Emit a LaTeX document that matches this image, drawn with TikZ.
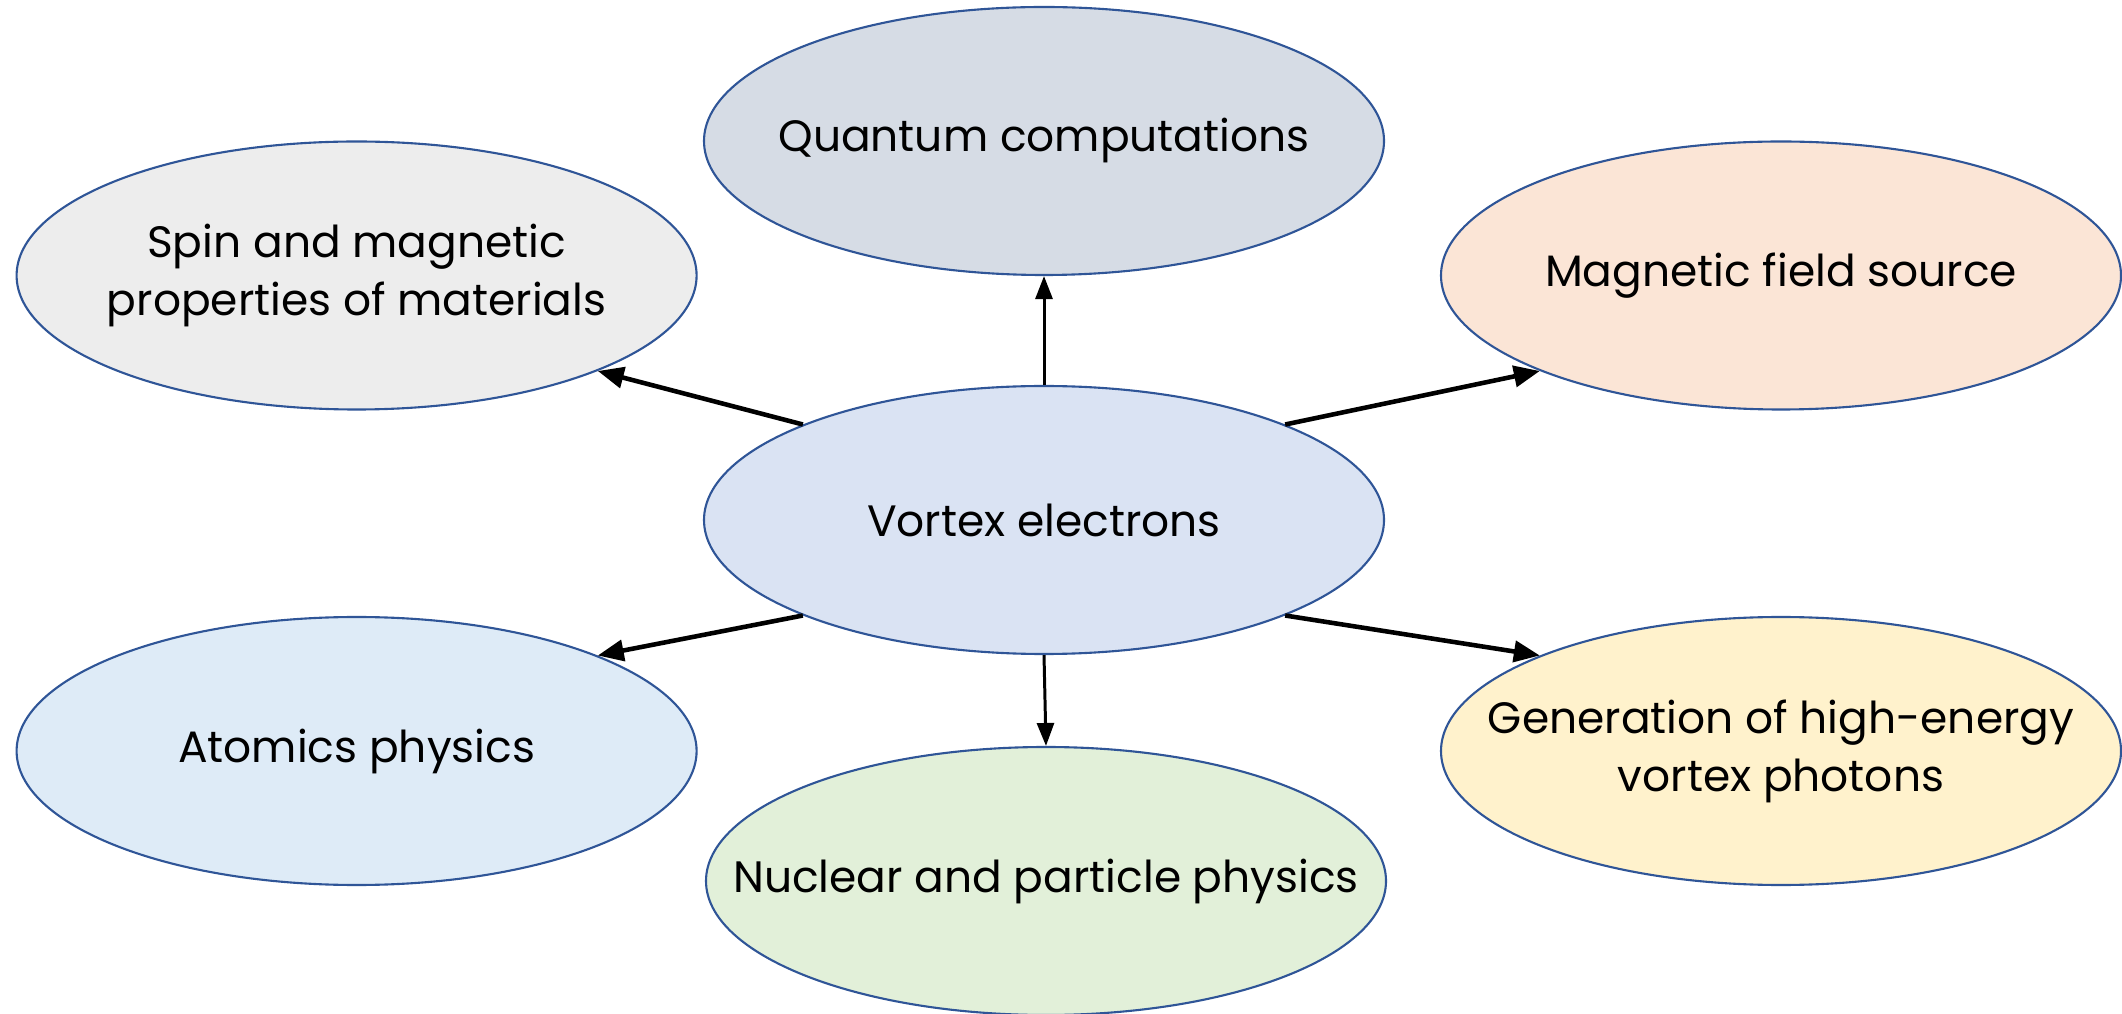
\documentclass[tikz,border=0pt]{standalone}
\usepackage{fontspec}
\setmainfont{Poppins}
\usepackage{tikz}
\usetikzlibrary{shapes, positioning, calc, arrows.meta}

\definecolor{rimblue}{HTML}{2F5597}
\definecolor{fillquantum}{HTML}{D6DCE5}
\definecolor{fillspin}{HTML}{EDEDED}
\definecolor{fillmagnet}{HTML}{FBE5D6}
\definecolor{fillvortex}{HTML}{DAE3F3}
\definecolor{fillatom}{HTML}{DEEBF7}
\definecolor{fillnuclear}{HTML}{E2F0D9}
\definecolor{fillphoton}{HTML}{FFF2CC}

\tikzset{
    topic/.style={ellipse, draw=rimblue, line width=0.6pt, minimum width=6.8cm, minimum height=2.68cm,
        inner xsep=-2.5cm, inner ysep=0pt, align=center, font=\fontsize{12.5pt}{16.5pt}\selectfont},
    link/.style={-{Triangle[length=2.6mm, width=2.1mm]}, line width=1.3pt},
    uplink/.style={-{Triangle[length=2.3mm, width=1.7mm]}, line width=0.85pt}
}

\begin{document}
\begin{tikzpicture}
    \useasboundingbox (0,0) rectangle (21.22,10.13);

    % Centre - vortex electrons
    \node[topic, fill=fillvortex] (vortex) at (10.44,4.93) {Vortex electrons};

    % Top row
    \node[topic, fill=fillquantum] (quantum) at (10.44,8.72) {Quantum computations};
    \node[topic, fill=fillspin] (spin) at (3.566,7.375) {Spin and magnetic\\properties of materials};
    \node[topic, fill=fillmagnet] (magnet) at (17.81,7.375) {Magnetic field source};

    % Bottom row
    \node[topic, fill=fillatom] (atom) at (3.566,2.62) {Atomics physics};
    \node[topic, fill=fillnuclear] (nuclear) at (10.46,1.32) {Nuclear and particle physics};
    \node[topic, fill=fillphoton] (photon) at (17.81,2.62) {Generation of high-energy\\vortex photons};

    % Arrows out of the centre
    \draw[uplink] (vortex.north) -- (quantum.south);
    \draw[uplink] (vortex.south) -- (nuclear.north);
    \draw[link] (vortex.north west) -- (spin.south east);
    \draw[link] (vortex.north east) -- (magnet.south west);
    \draw[link] (vortex.south west) -- (atom.north east);
    \draw[link] (vortex.south east) -- (photon.north west);
\end{tikzpicture}
\end{document}
